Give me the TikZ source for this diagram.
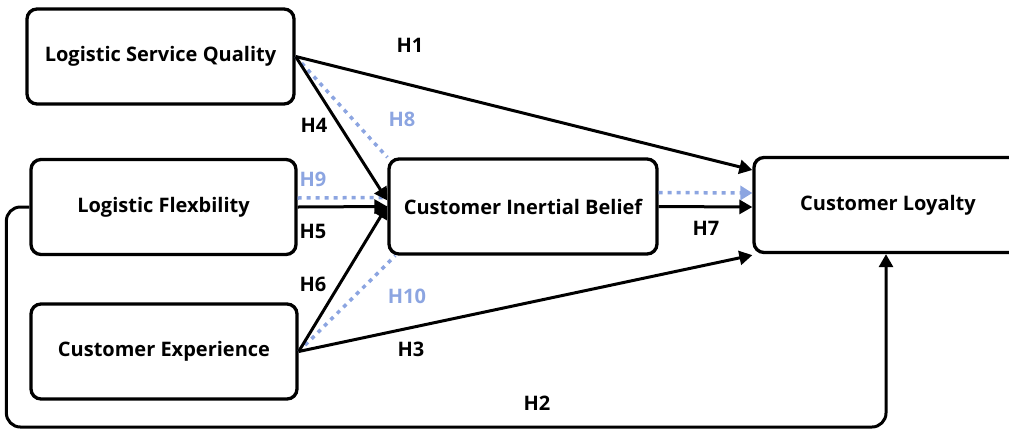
\documentclass[tikz,border=0pt]{standalone}
\usepackage{fontspec}
\setmainfont{Open Sans}
\usetikzlibrary{arrows.meta,calc}
\definecolor{hblue}{RGB}{140,165,225}
\tikzset{
  x=1pt,y=-1pt,
  box/.style={draw=black,line width=3.3pt,rounded corners=10pt,minimum width=#1,minimum height=95pt,inner sep=0pt,font=\fontsize{20}{24}\selectfont\bfseries},
  conn/.style={line width=3pt,-{Triangle[length=13pt,width=14pt]}},
  dot/.style={hblue,line width=3.5pt,dash pattern=on 4pt off 5pt},
  lab/.style={font=\fontsize{20}{24}\selectfont\bfseries},
  blab/.style={lab,text=hblue}
}
\begin{document}
\begin{tikzpicture}
\useasboundingbox (0,0) rectangle (1009,432);
\node[box=267pt] (lsq) at (160.5,56.5) {Logistic Service Quality};
\node[box=265pt] (lf) at (163.5,207) {Logistic Flexbility};
\node[box=266pt] (ce) at (164,351.5) {Customer Experience};
\node[box=268pt] (cib) at (523,206.5) {Customer Inertial Belief};
\node[box=268pt] (cl) at (888,205) {Customer Loyalty};
% dotted blue paths
\draw[dot] (lsq.east) -- (cib.north west);
\draw[dot] ([yshift=9pt]lf.east) -- ([yshift=9pt]cib.west);
\draw[dot] (ce.east) -- ([xshift=8pt]cib.south west);
\draw[dot,-{Triangle[length=12pt,width=14pt]}] ([yshift=14pt]cib.east) -- ([yshift=12pt]cl.west);
% black arrows
\draw[conn] (lsq.east) -- ([yshift=35pt]cl.west);
\draw[conn] (lsq.east) -- ([yshift=6pt]cib.west);
\draw[conn] (lf.east) -- (cib.west);
\draw[conn] (ce.east) -- ([yshift=1pt]cib.west);
\draw[conn] (ce.east) -- ([yshift=-1pt]cl.south west);
\draw[conn] (cib.east) -- ([yshift=-2pt]cl.west);
\draw[conn,rounded corners=14pt] (lf.west) -- ++(-23,0) |- (886,427) -- ([xshift=-2pt]cl.south);
% labels
\node[lab] (h1) at (410,45) {H1};
\node[lab] (h4) at (314,125) {H4};
\node[blab] (h8) at (402,119) {H8};
\node[blab] (h9) at (313,179) {H9};
\node[lab] (h5) at (313,231) {H5};
\node[lab] (h6) at (313,284) {H6};
\node[blab] (h10) at (407,296) {H10};
\node[lab] (h3) at (411,349) {H3};
\node[lab] (h7) at (706,228) {H7};
\node[lab] (h2) at (537,403) {H2};
\end{tikzpicture}
\end{document}
